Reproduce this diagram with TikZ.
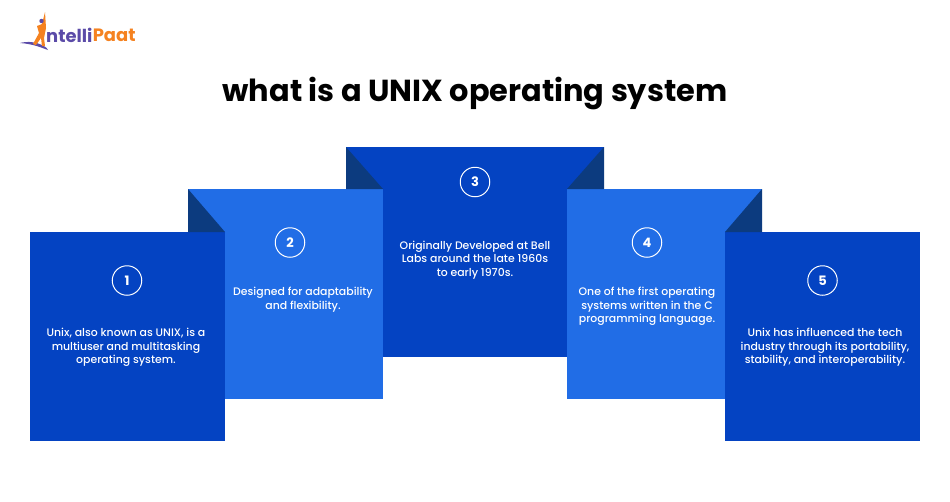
\documentclass[tikz,border=0pt]{standalone}
\usepackage{fontspec}
\setmainfont{Poppins}
\newfontfamily\medfont{Poppins Medium}
\definecolor{darkblue}{HTML}{0443C2}
\definecolor{lightblue}{HTML}{216DE6}
\definecolor{foldblue}{HTML}{0C3B7F}
\definecolor{logopurple}{HTML}{5B4BA8}
\definecolor{logoorange}{HTML}{F58220}
\tikzset{
  dkbox/.style={fill=darkblue,draw=none},
  ltbox/.style={fill=lightblue,draw=none},
  fold/.style={fill=foldblue,draw=none},
  numcirc/.style={circle,draw=white,line width=1pt,minimum size=29.5pt,inner sep=0pt,text=white,font=\fontsize{13}{13}\selectfont\bfseries},
  body/.style={text=white,align=center,font=\medfont\fontsize{10.9}{13.7}\selectfont,inner sep=0pt},
}
\begin{document}
\begin{tikzpicture}[x=1pt,y=-1pt]
\useasboundingbox (0,0) rectangle (950,501);
\fill[white] (0,0) rectangle (950,501);
% panels
\fill[dkbox] (346,147) rectangle (604,357);
\fill[ltbox] (188,189) rectangle (383,399);
\fill[ltbox] (567,189) rectangle (762,399);
\fill[dkbox] (30,232) rectangle (225,441);
\fill[dkbox] (725,232) rectangle (920,441);
% folds
\fill[fold] (346,147) -- (383,189) -- (346,189) -- cycle;
\fill[fold] (604,147) -- (567,189) -- (604,189) -- cycle;
\fill[fold] (188,189) -- (225,232) -- (188,232) -- cycle;
\fill[fold] (762,189) -- (725,232) -- (762,232) -- cycle;
% title
\node[font=\fontsize{30.4}{30}\selectfont\bfseries,inner sep=0pt] (title) at (475,94) {what is a UNIX operating system};
% numbers
\node[numcirc] (n1) at (127,280.5) {1};
\node[numcirc] (n2) at (290,242.5) {2};
\node[numcirc] (n3) at (475,182) {3};
\node[numcirc] (n4) at (647,242.5) {4};
\node[numcirc] (n5) at (822.5,280.5) {5};
% texts
\node[body] (t1) at (126,347.5) {Unix, also known as UNIX, is a\\multiuser and multitasking\\operating system.};
\node[body] (t2) at (303,300) {Designed for adaptability\\and flexibility.};
\node[body] (t3) at (475,260) {Originally Developed at Bell\\Labs around the late 1960s\\to early 1970s.};
\node[body] (t4) at (647,306.5) {One of the first operating\\systems written in the C\\programming language.};
\node[body] (t5) at (825,347.5) {Unix has influenced the tech\\industry through its portability,\\stability, and interoperability.};
% logo
\fill[logopurple] (20,43) .. controls (28,41) and (36,42) .. (42,45) .. controls (46,47) and (48,49) .. (48,50) .. controls (42,48) and (34,44) .. (20,43) -- cycle;
\fill[logoorange] (45,12) -- (46,28) -- (44,38) -- (45,46) -- (42,46) -- (41,38) -- (36,45) -- (33,44) -- (39,33) -- (37,26) -- (42,24) -- cycle;
\fill[logopurple] (41.5,21) circle (2.2);
\node[anchor=west,inner sep=0pt,text=logopurple,font=\fontsize{17.9}{18}\selectfont\bfseries] (l1) at (46,35) {ntelli};
\node[anchor=west,inner sep=0pt,text=logoorange,font=\fontsize{17.9}{18}\selectfont\bfseries] (l2) at (l1.east) {Paat};
\end{tikzpicture}
\end{document}
